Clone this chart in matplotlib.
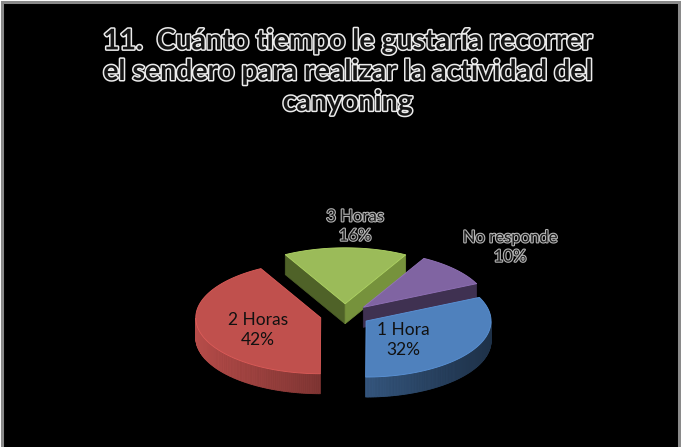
import numpy as np
import matplotlib
matplotlib.use("Agg")
import matplotlib.pyplot as plt
import matplotlib.patheffects as pe
from matplotlib.patches import Polygon, Rectangle

plt.rcParams['font.family'] = ['Lato', 'DejaVu Sans']

# survey answers
categorias = ['1 Hora', '2 Horas', '3 Horas', 'No responde']
porcentajes = [32, 42, 16, 10]
colores = ['#4f81bd', '#c0504d', '#9bbb59', '#8064a2']
# side face colours of the cut edges (ccw edge, cw edge)
paredes = [('#2f4d71', '#3a5f8c'), ('#7a3331', '#8c3a38'),
           ('#4f6228', '#76923c'), ('#3f3151', '#3f3151')]
titulo = u'11.  Cuánto tiempo le gustaría recorrer\nel sendero para realizar la actividad del\ncanyoning'

# pie geometry (pixels, y grows downward)
CX, CY = 345, 315
RX, RY = 125, 56
DEPTH = 20
EXPLODE = 0.2
START = 25.0


def punto(ax0, ay0, t):
    return ax0 + RX * np.cos(np.radians(t)), ay0 - RY * np.sin(np.radians(t))


def sombra(hexcol, f):
    r, g, b = matplotlib.colors.to_rgb(hexcol)
    return (min(r * f, 1), min(g * f, 1), min(b * f, 1))


fig = plt.figure(figsize=(6.81, 4.47), dpi=100)
fig.patch.set_facecolor('white')
ax = fig.add_axes([0, 0, 1, 1])
ax.set_xlim(0, 681)
ax.set_ylim(447, 0)
ax.axis('off')

ax.add_patch(Rectangle((2, 2), 677, 460, facecolor='black', edgecolor='#8a8a8a', lw=2.2))

# slice angle ranges, clockwise from START
rangos = []
a = START
for p in porcentajes:
    span = 360.0 * p / sum(porcentajes)
    rangos.append((a - span, a))
    a -= span

# draw back slices first
orden = sorted(range(len(porcentajes)), key=lambda i: -np.sin(np.radians(sum(rangos[i]) / 2)))

for i in orden:
    lo, hi = rangos[i]
    mid = (lo + hi) / 2
    ax0 = CX + EXPLODE * RX * np.cos(np.radians(mid))
    ay0 = CY - EXPLODE * RY * np.sin(np.radians(mid))

    # cut faces
    for ang, normal, col in ((hi, hi + 90, paredes[i][0]), (lo, lo - 90, paredes[i][1])):
        if np.sin(np.radians(normal)) < -0.05:
            px, py = punto(ax0, ay0, ang)
            ax.add_patch(Polygon([(ax0, ay0), (px, py), (px, py + DEPTH), (ax0, ay0 + DEPTH)],
                                 closed=True, facecolor=col, edgecolor=col, lw=0.5))

    # curved outer wall, only the front half shows
    ts = np.linspace(lo, hi, 160)
    for t0, t1 in zip(ts[:-1], ts[1:]):
        tm = (t0 + t1) / 2
        if np.sin(np.radians(tm)) >= 0:
            continue
        f = 0.665 + 0.285 * np.cos(np.radians(tm - 180))
        p0 = punto(ax0, ay0, t0)
        p1 = punto(ax0, ay0, t1)
        c = sombra(colores[i], f)
        ax.add_patch(Polygon([p0, p1, (p1[0], p1[1] + DEPTH), (p0[0], p0[1] + DEPTH)],
                             closed=True, facecolor=c, edgecolor=c, lw=0.6))

    # top face
    arco = [punto(ax0, ay0, t) for t in np.linspace(lo, hi, 120)]
    ax.add_patch(Polygon([(ax0, ay0)] + arco, closed=True, facecolor=colores[i],
                         edgecolor=sombra(colores[i], 1.15), lw=0.6))

# labels
lab_in = dict(fontsize=12.5, color='#111111', ha='center', va='center', linespacing=1.3)
ax.text(258, 330, '%s\n%d%%' % (categorias[1], porcentajes[1]), **lab_in)
ax.text(403, 340, '%s\n%d%%' % (categorias[0], porcentajes[0]), **lab_in)

borde = [pe.withStroke(linewidth=1.6, foreground='#b4b4b4')]
lab_out = dict(fontsize=12, color='#1a1a1a', ha='center', va='center', linespacing=1.25,
               path_effects=borde)
ax.text(355, 226, '%s\n%d%%' % (categorias[2], porcentajes[2]), **lab_out)
ax.text(510, 247, '%s\n%d%%' % (categorias[3], porcentajes[3]), **lab_out)

ax.text(348, 72, titulo, fontsize=20.5, fontweight='bold', color='#151515', ha='center',
        va='center', linespacing=1.22,
        path_effects=[pe.withStroke(linewidth=2.2, foreground='#ececec')])

fig.savefig('out.png', dpi=100, facecolor=fig.get_facecolor())
